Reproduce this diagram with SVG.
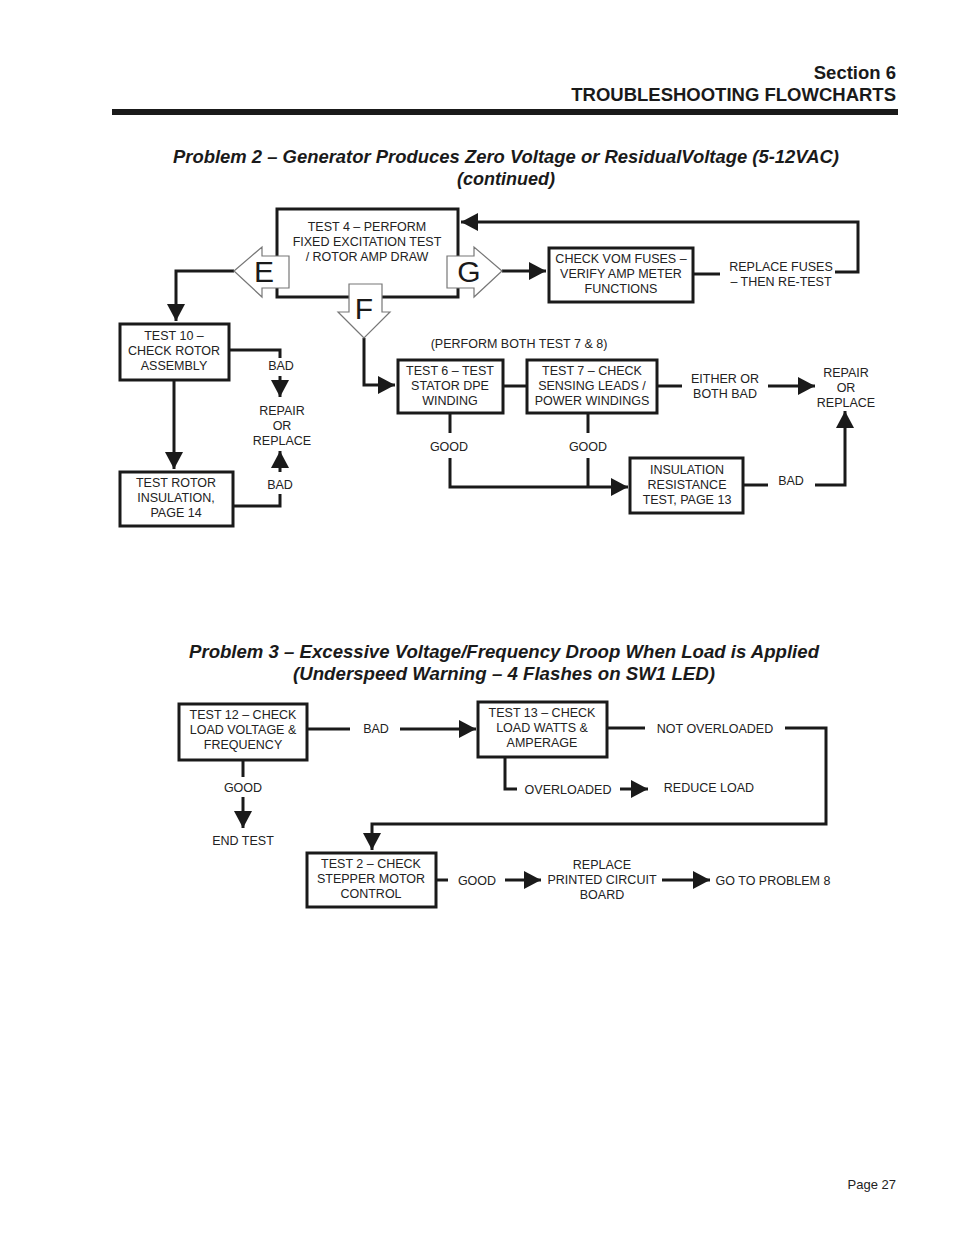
<svg xmlns="http://www.w3.org/2000/svg" width="954" height="1235" viewBox="0 0 954 1235">
<style>
.t{font-family:"Liberation Sans",Arial,sans-serif;font-size:12.5px;fill:#222;text-anchor:middle}
.box{fill:#fff;stroke:#1a1a1a;stroke-width:3}
.ln{fill:none;stroke:#1a1a1a;stroke-width:3}
.hd{font-family:"Liberation Sans",Arial,sans-serif;font-weight:bold;font-size:18.5px;fill:#1a1a1a;text-anchor:end}
.ti{font-family:"Liberation Sans",Arial,sans-serif;font-weight:bold;font-style:italic;font-size:18px;fill:#1a1a1a;text-anchor:middle}
.big{font-family:"Liberation Sans",Arial,sans-serif;font-size:30px;fill:#1a1a1a;text-anchor:middle}
.hollow{fill:#fff;stroke:#777;stroke-width:1.2}
</style>
<defs>
<marker id="ah" markerUnits="userSpaceOnUse" markerWidth="18" markerHeight="18" refX="17" refY="9" orient="auto">
<path d="M0,0 L17,9 L0,18 z" fill="#1a1a1a"/>
</marker>
</defs>
<rect width="954" height="1235" fill="#fff"/>

<g id="header">
<text class="hd" x="896" y="79">Section 6</text>
<text class="hd" x="896" y="101">TROUBLESHOOTING FLOWCHARTS</text>
<rect x="112" y="109" width="786" height="6" fill="#1a1a1a"/>
<text class="ti" x="506" y="163" textLength="666" lengthAdjust="spacingAndGlyphs">Problem 2 – Generator Produces Zero Voltage or ResidualVoltage (5-12VAC)</text>
<text class="ti" x="506" y="185">(continued)</text>
<text class="ti" x="504" y="658" textLength="630" lengthAdjust="spacingAndGlyphs">Problem 3 – Excessive Voltage/Frequency Droop When Load is Applied</text>
<text class="ti" x="504" y="680" textLength="422" lengthAdjust="spacingAndGlyphs">(Underspeed Warning – 4 Flashes on SW1 LED)</text>
<text class="t" x="896" y="1189" style="text-anchor:end;font-size:13px">Page 27</text>
</g>

<g id="connectors">
<polyline class="ln" points="234,271 176,271 176,321" marker-end="url(#ah)"/>
<polyline class="ln" points="835,272 858,272 858,222 461,222" marker-end="url(#ah)"/>
<line class="ln" x1="502" y1="271" x2="546" y2="271" marker-end="url(#ah)"/>
<line class="ln" x1="693" y1="274" x2="720" y2="274"/>
<polyline class="ln" points="364,338 364,385 395,385" marker-end="url(#ah)"/>
<polyline class="ln" points="229,350 280,350 280,358"/>
<line class="ln" x1="280" y1="376" x2="280" y2="397" marker-end="url(#ah)"/>
<line class="ln" x1="280" y1="472" x2="280" y2="451" marker-end="url(#ah)"/>
<polyline class="ln" points="280,494 280,506 233,506"/>
<line class="ln" x1="174" y1="380" x2="174" y2="469" marker-end="url(#ah)"/>
<line class="ln" x1="503" y1="386" x2="526" y2="386"/>
<line class="ln" x1="657" y1="386" x2="682" y2="386"/>
<line class="ln" x1="768" y1="386" x2="815" y2="386" marker-end="url(#ah)"/>
<line class="ln" x1="450" y1="413" x2="450" y2="433"/>
<line class="ln" x1="588" y1="413" x2="588" y2="433"/>
<polyline class="ln" points="450,458 450,487 628,487" marker-end="url(#ah)"/>
<line class="ln" x1="588" y1="458" x2="588" y2="487"/>
<line class="ln" x1="743" y1="485" x2="768" y2="485"/>
<polyline class="ln" points="815,485 845,485 845,411" marker-end="url(#ah)"/>
<line class="ln" x1="307" y1="729" x2="350" y2="729"/>
<line class="ln" x1="400" y1="729" x2="476" y2="729" marker-end="url(#ah)"/>
<line class="ln" x1="607" y1="728" x2="645" y2="728"/>
<polyline class="ln" points="785,728 826,728 826,824 372,824 372,850" marker-end="url(#ah)"/>
<polyline class="ln" points="505,757 505,789 517,789"/>
<line class="ln" x1="620" y1="789" x2="648" y2="789" marker-end="url(#ah)"/>
<line class="ln" x1="243" y1="760" x2="243" y2="777"/>
<line class="ln" x1="243" y1="797" x2="243" y2="828" marker-end="url(#ah)"/>
<line class="ln" x1="436" y1="880" x2="448" y2="880"/>
<line class="ln" x1="505" y1="880" x2="541" y2="880" marker-end="url(#ah)"/>
<line class="ln" x1="662" y1="880" x2="710" y2="880" marker-end="url(#ah)"/>
</g>

<g id="test4">
<rect class="box" x="277" y="209" width="181" height="88"/>
<text class="t" x="367" y="231">TEST 4 – PERFORM</text>
<text class="t" x="367" y="246">FIXED EXCITATION TEST</text>
<text class="t" x="367" y="261">/ ROTOR AMP DRAW</text>
</g>
<g id="arrowE">
<polygon class="hollow" points="234,271 262,247 262,256 289,256 289,288 262,288 262,297"/>
<text class="big" x="264" y="282">E</text>
</g>
<g id="arrowG">
<polygon class="hollow" points="502,271 474,247 474,256 447,256 447,288 474,288 474,297"/>
<text class="big" x="469" y="282">G</text>
</g>
<g id="arrowF">
<polygon class="hollow" points="364,338 338,312 349,312 349,284 382,284 382,312 390,312"/>
<text class="big" x="364" y="319">F</text>
</g>
<g id="vom">
<rect class="box" x="549" y="248" width="144" height="54"/>
<text class="t" x="621" y="263">CHECK VOM FUSES –</text>
<text class="t" x="621" y="278">VERIFY AMP METER</text>
<text class="t" x="621" y="293">FUNCTIONS</text>
</g>
<g id="replaceFuses">
<text class="t" x="781" y="271">REPLACE FUSES</text>
<text class="t" x="781" y="286">– THEN RE-TEST</text>
</g>
<g id="test10">
<rect class="box" x="120" y="324" width="109" height="56"/>
<text class="t" x="174" y="340">TEST 10 –</text>
<text class="t" x="174" y="355">CHECK ROTOR</text>
<text class="t" x="174" y="370">ASSEMBLY</text>
</g>
<g id="rotorLabels">
<text class="t" x="281" y="370">BAD</text>
<text class="t" x="282" y="415">REPAIR</text>
<text class="t" x="282" y="430">OR</text>
<text class="t" x="282" y="445">REPLACE</text>
<text class="t" x="280" y="489">BAD</text>
</g>
<g id="testRotor">
<rect class="box" x="120" y="472" width="113" height="54"/>
<text class="t" x="176" y="487">TEST ROTOR</text>
<text class="t" x="176" y="502">INSULATION,</text>
<text class="t" x="176" y="517">PAGE 14</text>
</g>
<g id="perform">
<text class="t" x="519" y="348">(PERFORM BOTH TEST 7 &amp; 8)</text>
</g>
<g id="test6">
<rect class="box" x="398" y="360" width="105" height="53"/>
<text class="t" x="450" y="375">TEST 6 – TEST</text>
<text class="t" x="450" y="390">STATOR DPE</text>
<text class="t" x="450" y="405">WINDING</text>
</g>
<g id="test7">
<rect class="box" x="527" y="360" width="130" height="53"/>
<text class="t" x="592" y="375">TEST 7 – CHECK</text>
<text class="t" x="592" y="390">SENSING LEADS /</text>
<text class="t" x="592" y="405">POWER WINDINGS</text>
</g>
<g id="labels67">
<text class="t" x="725" y="383">EITHER OR</text>
<text class="t" x="725" y="398">BOTH BAD</text>
<text class="t" x="846" y="377">REPAIR</text>
<text class="t" x="846" y="392">OR</text>
<text class="t" x="846" y="407">REPLACE</text>
<text class="t" x="449" y="451">GOOD</text>
<text class="t" x="588" y="451">GOOD</text>
<text class="t" x="791" y="485">BAD</text>
</g>
<g id="insulation">
<rect class="box" x="630" y="458" width="113" height="55"/>
<text class="t" x="687" y="474">INSULATION</text>
<text class="t" x="687" y="489">RESISTANCE</text>
<text class="t" x="687" y="504">TEST, PAGE 13</text>
</g>

<g id="test12">
<rect class="box" x="179" y="704" width="128" height="56"/>
<text class="t" x="243" y="719">TEST 12 – CHECK</text>
<text class="t" x="243" y="734">LOAD VOLTAGE &amp;</text>
<text class="t" x="243" y="749">FREQUENCY</text>
</g>
<g id="p3labels">
<text class="t" x="376" y="733">BAD</text>
<text class="t" x="243" y="792">GOOD</text>
<text class="t" x="243" y="845">END TEST</text>
<text class="t" x="715" y="733">NOT OVERLOADED</text>
<text class="t" x="568" y="794">OVERLOADED</text>
<text class="t" x="709" y="792">REDUCE LOAD</text>
<text class="t" x="477" y="885">GOOD</text>
<text class="t" x="602" y="869">REPLACE</text>
<text class="t" x="602" y="884">PRINTED CIRCUIT</text>
<text class="t" x="602" y="899">BOARD</text>
<text class="t" x="773" y="885">GO TO PROBLEM 8</text>
</g>
<g id="test13">
<rect class="box" x="478" y="702" width="129" height="55"/>
<text class="t" x="542" y="717">TEST 13 – CHECK</text>
<text class="t" x="542" y="732">LOAD WATTS &amp;</text>
<text class="t" x="542" y="747">AMPERAGE</text>
</g>
<g id="test2">
<rect class="box" x="307" y="853" width="129" height="54"/>
<text class="t" x="371" y="868">TEST 2 – CHECK</text>
<text class="t" x="371" y="883">STEPPER MOTOR</text>
<text class="t" x="371" y="898">CONTROL</text>
</g>
</svg>
